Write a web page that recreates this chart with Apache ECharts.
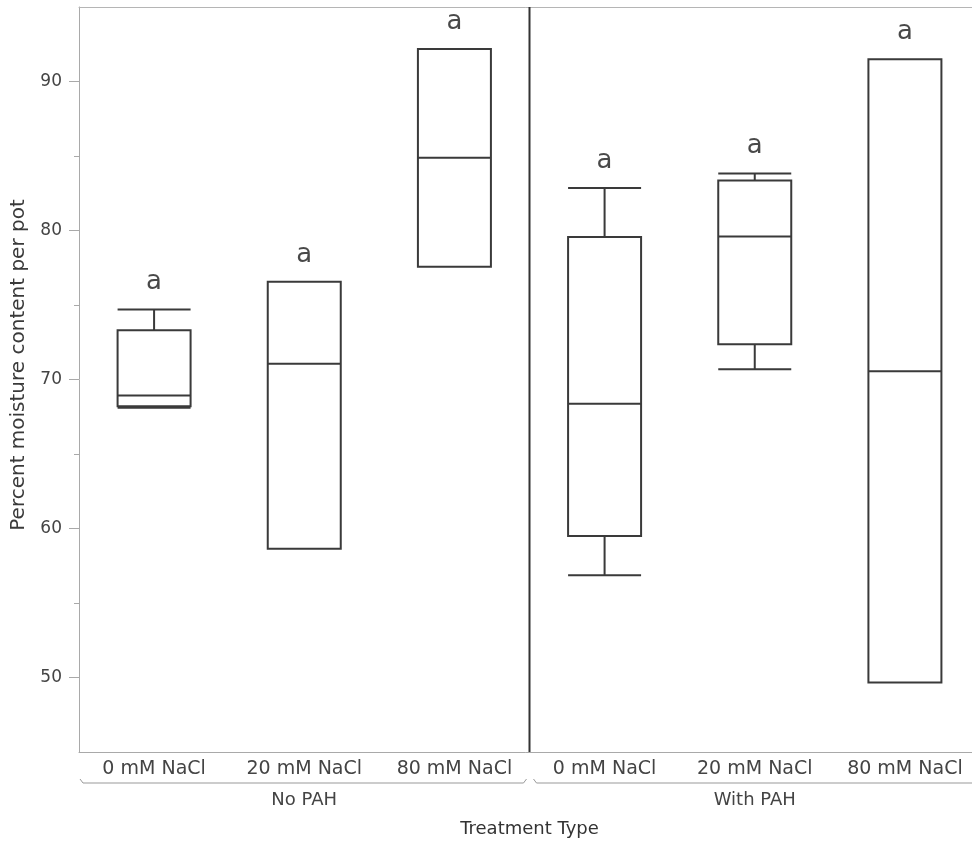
<!DOCTYPE html>
<html><head><meta charset="utf-8">
<script src="https://cdn.jsdelivr.net/npm/echarts@6/dist/echarts.min.js"></script>
<style>html,body{margin:0;padding:0;background:#fff}#c{width:972px;height:844px}</style>
</head><body><div id="c"></div>
<script>
const categories = ['0 mM NaCl','20 mM NaCl','80 mM NaCl','0 mM NaCl','20 mM NaCl','80 mM NaCl'];
const groupNames = ['No PAH','With PAH'];
const groupStart = [0, 3];
const groupEnd = [3, 6];
const minVals    = [68.10, 58.64, 77.57, 56.87, 70.68, 49.67];
const q1Vals     = [68.20, 58.64, 77.57, 59.49, 72.37, 49.67];
const medianVals = [68.93, 71.06, 84.88, 68.37, 79.60, 70.55];
const q3Vals     = [73.31, 76.56, 92.18, 79.56, 83.35, 91.50];
const maxVals    = [74.70, 76.56, 92.18, 82.86, 83.82, 91.50];
const letters    = ['a','a','a','a','a','a'];
const yMin = 45, yMax = 95;
const yMajorTicks = [50, 60, 70, 80, 90];
const yMinorTicks = [55, 65, 75, 85];
const yTitle = 'Percent moisture content per pot';
const xTitle = 'Treatment Type';

const FONT = 'DejaVu Sans';
const AXIS_GRAY = '#a9a9a9';
const TEXT = '#444';

const boxData = categories.map((c, i) => [minVals[i], q1Vals[i], medianVals[i], q3Vals[i], maxVals[i]]);

const chart = echarts.init(document.getElementById('c'), null, {renderer: 'canvas'});
chart.setOption({
  animation: false,
  backgroundColor: '#fff',
  textStyle: {fontFamily: FONT},
  grid: {left: 79, top: 7, width: 901, height: 745, show: false, outerBoundsMode: 'none', containLabel: false},
  graphic: [{
    type: 'text', x: 19, y: 365, rotation: Math.PI / 2, silent: true,
    style: {text: yTitle, align: 'center', verticalAlign: 'middle', fontSize: 20, fill: '#3a3a3a', fontFamily: FONT}
  }],
  xAxis: [
    {
      type: 'category', data: categories, gridIndex: 0,
      axisLine: {lineStyle: {color: AXIS_GRAY, width: 1}},
      axisTick: {show: false},
      axisLabel: {interval: 0, fontSize: 19, color: TEXT, margin: 8, fontFamily: FONT},
      splitLine: {show: false},
      name: xTitle, nameLocation: 'middle', nameGap: 68,
      nameTextStyle: {fontSize: 18, color: '#333', fontFamily: FONT}
    },
    {type: 'value', min: 0, max: 6, show: false, gridIndex: 0},
    {
      type: 'value', min: 0, max: 6, position: 'top', gridIndex: 0,
      axisLine: {show: true, lineStyle: {color: '#b5b5b5', width: 1}},
      axisTick: {show: false}, axisLabel: {show: false}, splitLine: {show: false}
    }
  ],
  yAxis: [
    {
      type: 'value', min: yMin, max: yMax, position: 'left', offset: 0,
      axisLine: {show: true, lineStyle: {color: AXIS_GRAY, width: 1}},
      axisTick: {show: true, customValues: yMajorTicks, length: 10, lineStyle: {color: AXIS_GRAY}},
      axisLabel: {customValues: yMajorTicks, fontSize: 17, color: TEXT, margin: 17, fontFamily: FONT},
      splitLine: {show: false}
    },
    {
      type: 'value', min: yMin, max: yMax, position: 'left', offset: 0,
      axisLine: {show: false},
      axisTick: {show: true, customValues: yMinorTicks, length: 5, lineStyle: {color: AXIS_GRAY}},
      axisLabel: {show: false},
      splitLine: {show: false}
    }
  ],
  series: [
    {
      type: 'boxplot', xAxisIndex: 0, yAxisIndex: 0,
      data: boxData,
      boxWidth: [73, 73],
      itemStyle: {color: '#fff', borderColor: '#3a3a3a', borderWidth: 2},
      emphasis: {disabled: true},
      silent: true
    },
    {
      type: 'scatter', xAxisIndex: 0, yAxisIndex: 0,
      data: maxVals.map((v, i) => [i, v]),
      symbolSize: 0, silent: true,
      label: {show: true, position: 'top', distance: 14, fontSize: 26, color: '#1a1a1a', fontFamily: FONT,
        formatter: p => letters[p.dataIndex]}
    },
    {
      type: 'line', xAxisIndex: 1, yAxisIndex: 0,
      data: [[groupEnd[0], yMin], [groupEnd[0], yMax]],
      symbol: 'none', silent: true,
      lineStyle: {color: '#333', width: 2}
    },
    {
      type: 'custom', xAxisIndex: 1, yAxisIndex: 0, clip: false, silent: true,
      data: groupStart.map((s, i) => [s, groupEnd[i], yMin]),
      encode: {x: [0, 1], y: 2},
      renderItem: function (params, api) {
        const s = api.value(0), e = api.value(1);
        const p0 = api.coord([s, yMin]);
        const p1 = api.coord([e, yMin]);
        const y = p0[1] + 31;
        const x0 = p0[0] + (params.dataIndex === 0 ? 1 : 4);
        const x1 = p1[0] - 3;
        return {type: 'group', children: [
          {type: 'polyline', shape: {points: [[x0, y - 4], [x0 + 3, y], [x1 - 3, y], [x1, y - 4]]},
            style: {stroke: '#999', lineWidth: 1, fill: null}},
          {type: 'text', style: {text: groupNames[params.dataIndex], x: (p0[0] + p1[0]) / 2, y: y + 17,
            align: 'center', verticalAlign: 'middle', fontSize: 18, fill: TEXT, fontFamily: FONT}}
        ]};
      }
    }
  ]
});
</script>
</body></html>
